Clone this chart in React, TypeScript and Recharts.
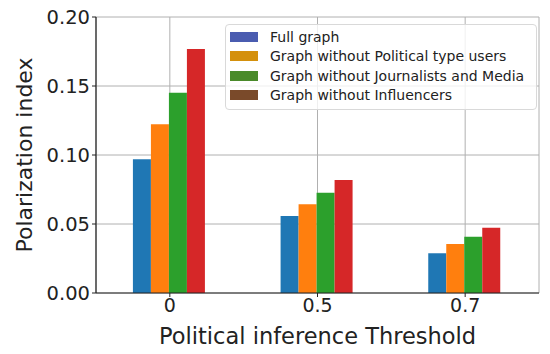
import React from 'react';
import {
  BarChart, Bar, XAxis, YAxis, CartesianGrid,
} from 'recharts';

const thresholds = ['0', '0.5', '0.7'];
const fullGraph = [0.097, 0.0558, 0.0288];
const noPolitical = [0.1222, 0.0643, 0.0355];
const noJournalists = [0.1451, 0.0727, 0.0408];
const noInfluencers = [0.1768, 0.0819, 0.0473];
const yTicks = [0, 0.05, 0.1, 0.15, 0.2];

const SERIES = [
  { key: 'full', name: 'Full graph', fill: '#1f77b4', legend: '#4a5cb0' },
  { key: 'political', name: 'Graph without Political type users', fill: '#ff7f0e', legend: '#d4900c' },
  { key: 'journalists', name: 'Graph without Journalists and Media', fill: '#2ca02c', legend: '#4a8a2a' },
  { key: 'influencers', name: 'Graph without Influencers', fill: '#d62728', legend: '#7a4a2a' },
];

const data = thresholds.map((t, i) => ({
  threshold: t,
  full: fullGraph[i],
  political: noPolitical[i],
  journalists: noJournalists[i],
  influencers: noInfluencers[i],
}));

const FONT = '"DejaVu Sans", sans-serif';

// legend drawn as an overlay so it doesn't eat into the plot area
function LegendBox() {
  return (
    <div style={{
      position: 'absolute', left: 225, top: 24, width: 306,
      background: 'rgba(255,255,255,0.8)', border: '1px solid #d9d9d9', borderRadius: 4,
      padding: '2px 0 4px 4px', fontFamily: FONT, fontSize: 14, color: '#222',
    }}>
      {SERIES.map(s => (
        <div key={s.key} style={{ display: 'flex', alignItems: 'center', height: 19.5 }}>
          <div style={{ width: 28, height: 10, background: s.legend, marginRight: 12 }} />
          <span style={{ whiteSpace: 'nowrap' }}>{s.name}</span>
        </div>
      ))}
    </div>
  );
}

export default function App() {
  return (
    <div style={{ position: 'absolute', left: 0, top: 0, width: 550, height: 354, background: '#fff' }}>
      <BarChart
        width={550}
        height={354}
        data={data}
        margin={{ top: 17, right: 11, bottom: 0, left: 0 }}
        barCategoryGap="25%"
        barGap={0}
        style={{ fontFamily: FONT }}
      >
        <CartesianGrid stroke="#b0b0b0" strokeWidth={1} />
        <XAxis
          dataKey="threshold"
          height={61}
          tick={{ fill: '#222', fontSize: 19 }}
          tickLine={{ stroke: '#222' }}
          tickSize={4}
          axisLine={{ stroke: '#222', strokeWidth: 1.2 }}
          label={{ value: 'Political inference Threshold', position: 'insideBottom', offset: 10, fill: '#222', fontSize: 22.5 }}
        />
        <XAxis xAxisId="top" orientation="top" dataKey="threshold" height={0} tick={false} tickLine={false}
          axisLine={{ stroke: '#222', strokeWidth: 1.2 }} />
        <YAxis
          width={96}
          domain={[0, 0.2]}
          ticks={yTicks}
          tickFormatter={(v: number) => v.toFixed(2)}
          tick={{ fill: '#222', fontSize: 19.5 }}
          tickLine={{ stroke: '#222' }}
          tickSize={4}
          axisLine={{ stroke: '#222', strokeWidth: 1.2 }}
          label={{ value: 'Polarization index', angle: -90, position: 'insideLeft', offset: 24, fill: '#222', fontSize: 22, style: { textAnchor: 'middle' } }}
        />
        <YAxis yAxisId="right" orientation="right" width={0} domain={[0, 0.2]} tick={false} tickLine={false}
          axisLine={{ stroke: '#222', strokeWidth: 1.2 }} />
        {SERIES.map(s => (
          <Bar key={s.key} dataKey={s.key} name={s.name} fill={s.fill} isAnimationActive={false} />
        ))}
      </BarChart>
      <LegendBox />
    </div>
  );
}
